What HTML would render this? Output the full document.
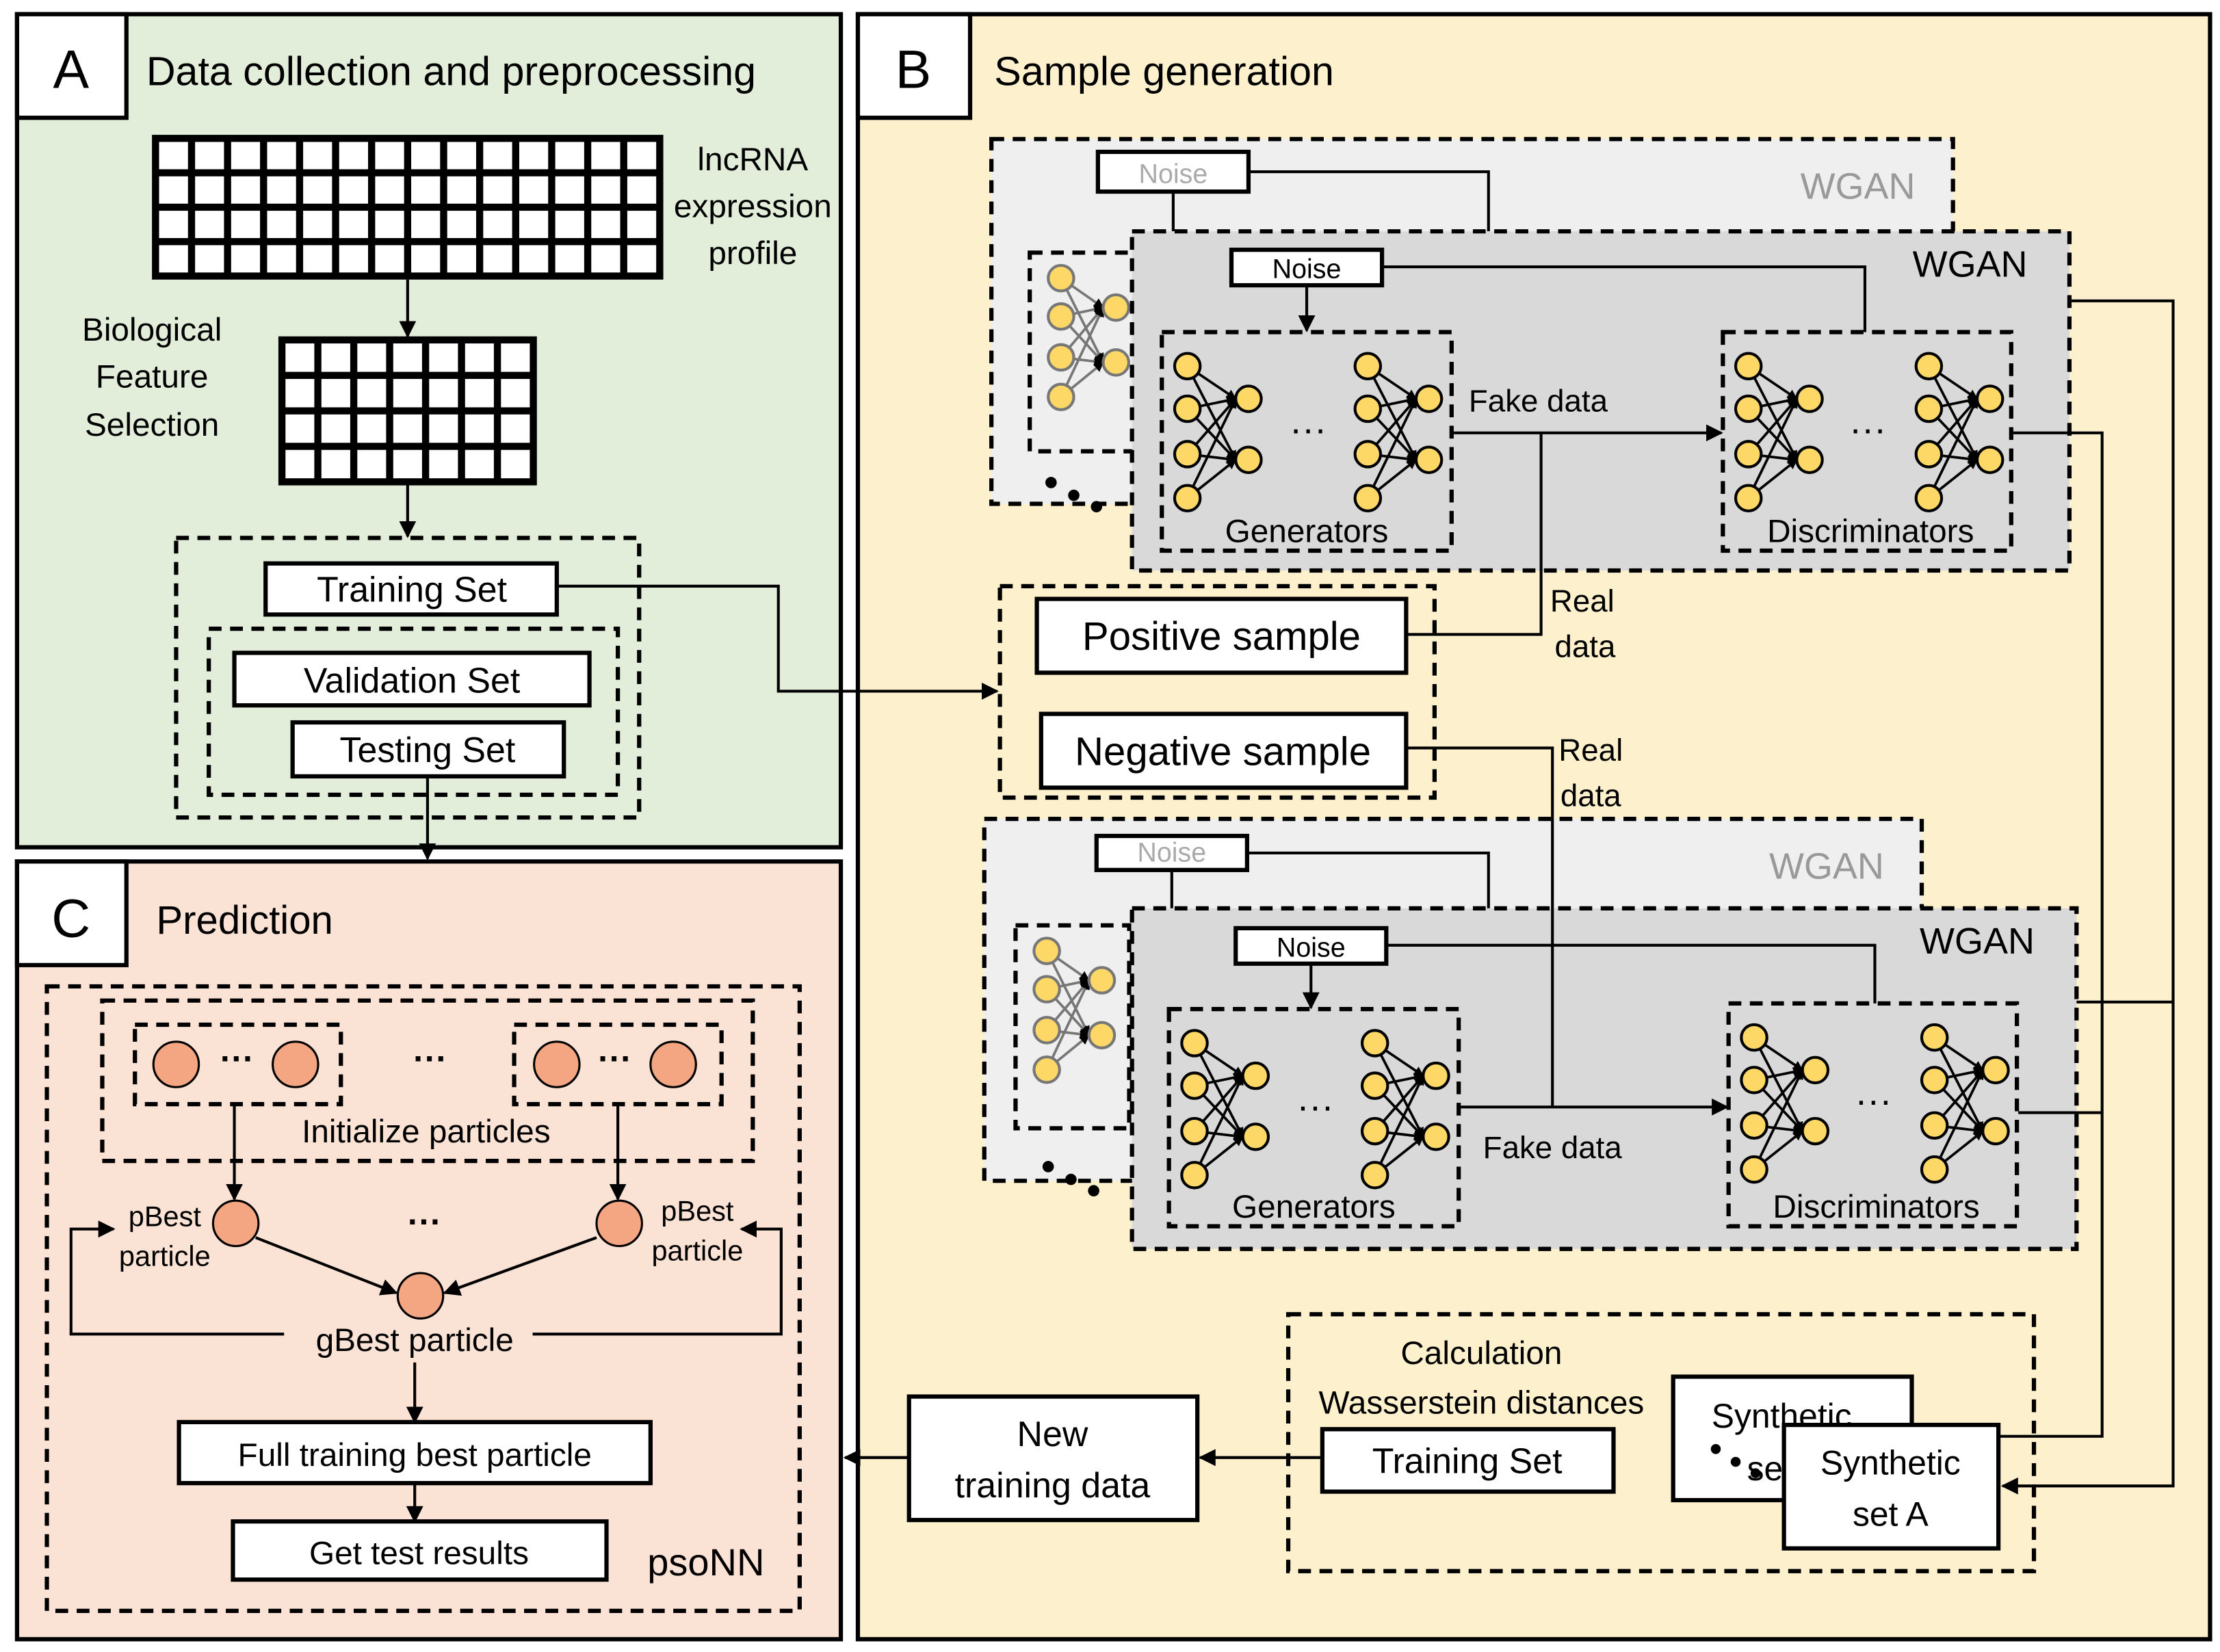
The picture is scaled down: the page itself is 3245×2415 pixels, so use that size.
<!DOCTYPE html>
<html><head><meta charset="utf-8"><style>
html,body{margin:0;padding:0;background:#fff}
svg{display:block}
text{font-family:"Liberation Sans","DejaVu Sans",sans-serif;fill:#000}
</style></head><body>
<svg id="s" width="3245" height="2415" viewBox="0 0 1563 1164" preserveAspectRatio="none" xmlns="http://www.w3.org/2000/svg">
<defs>
<marker id="ar" viewBox="0 0 10 10" refX="9" refY="5" markerWidth="7" markerHeight="7" markerUnits="userSpaceOnUse" orient="auto"><path d="M0,0L10,5L0,10z" fill="#000"/></marker>
<marker id="ar2" viewBox="0 0 10 10" refX="9" refY="5" markerWidth="12" markerHeight="12" markerUnits="userSpaceOnUse" orient="auto"><path d="M0,0L10,5L0,10z" fill="#000"/></marker>
</defs>
<rect width="1563" height="1164" fill="#fff"/>
<rect x="12" y="10" width="580" height="587" fill="#e2eed9" stroke="#000" stroke-width="3"/>
<rect x="12" y="10" width="77" height="73" fill="#fff" stroke="#000" stroke-width="3"/>
<text x="50" y="62" font-size="38" text-anchor="middle">A</text>
<text x="103" y="60" font-size="28.5">Data collection and preprocessing</text>
<g id="grids"></g>
<g font-size="23" text-anchor="middle">
<text x="530" y="120">lncRNA</text><text x="530" y="153">expression</text><text x="530" y="186">profile</text>
<text x="107" y="240">Biological</text><text x="107" y="273">Feature</text><text x="107" y="307">Selection</text>
</g>
<g stroke="#000" stroke-width="2" fill="none">
<line x1="287" y1="197" x2="287" y2="237" marker-end="url(#ar2)"/>
<line x1="287" y1="342" x2="287" y2="378" marker-end="url(#ar2)"/>
<rect x="124" y="379" width="326" height="197" stroke-dasharray="9,6" stroke-width="3"/>
<rect x="147" y="443" width="288" height="117" stroke-dasharray="9,6" stroke-width="3"/>
<line x1="301" y1="547" x2="301" y2="605" marker-end="url(#ar2)"/>
</g>
<g stroke="#000" stroke-width="3" fill="#fff">
<rect x="187" y="397" width="205" height="36"/>
<rect x="165" y="460" width="250" height="37"/>
<rect x="206" y="509" width="191" height="38"/>
</g>
<g font-size="25" text-anchor="middle">
<text x="290" y="424">Training Set</text>
<text x="290" y="488">Validation Set</text>
<text x="301" y="537">Testing Set</text>
</g>
<rect x="12" y="607" width="580" height="548" fill="#fae2d4" stroke="#000" stroke-width="3"/>
<rect x="12" y="607" width="77" height="73" fill="#fff" stroke="#000" stroke-width="3"/>
<text x="50" y="660" font-size="38" text-anchor="middle">C</text>
<text x="110" y="658" font-size="28">Prediction</text>
<g stroke="#000" stroke-width="3" fill="none" stroke-dasharray="9,6">
<rect x="33" y="695" width="530" height="440"/>
<rect x="72" y="705" width="458" height="113"/>
<rect x="95" y="722" width="145" height="56"/>
<rect x="362" y="722" width="146" height="56"/>
</g>
<g fill="#f4a582" stroke="#000" stroke-width="1.5">
<circle cx="124" cy="750" r="16"/><circle cx="208" cy="750" r="16"/>
<circle cx="392" cy="750" r="16"/><circle cx="474" cy="750" r="16"/>
<circle cx="166" cy="862" r="16"/><circle cx="436" cy="862" r="16"/><circle cx="296" cy="913" r="16"/>
</g>
<g font-size="24" text-anchor="middle" font-weight="bold">
<text x="167" y="754">···</text><text x="433" y="754">···</text><text x="303" y="754">···</text><text x="299" y="869">···</text>
</g>
<text x="300" y="805" font-size="23" text-anchor="middle">Initialize particles</text>
<g font-size="20" text-anchor="middle">
<text x="116" y="864">pBest</text><text x="116" y="892">particle</text>
<text x="491" y="860">pBest</text><text x="491" y="888">particle</text>
</g>
<text x="292" y="952" font-size="23" text-anchor="middle">gBest particle</text>
<g stroke="#000" stroke-width="2" fill="none">
<line x1="165" y1="778" x2="165" y2="845" marker-end="url(#ar2)"/>
<line x1="435" y1="778" x2="435" y2="845" marker-end="url(#ar2)"/>
<line x1="180" y1="872" x2="279" y2="911" marker-end="url(#ar2)"/>
<line x1="420" y1="872" x2="313" y2="911" marker-end="url(#ar2)"/>
<polyline points="200,940 50,940 50,866 80,866" marker-end="url(#ar2)"/>
<polyline points="375,940 550,940 550,866 522,866" marker-end="url(#ar2)"/>
<line x1="292" y1="960" x2="292" y2="1002" marker-end="url(#ar2)"/>
<line x1="292" y1="1045" x2="292" y2="1072" marker-end="url(#ar2)"/>
</g>
<g stroke="#000" stroke-width="3" fill="#fff">
<rect x="126" y="1002" width="332" height="43"/>
<rect x="164" y="1072" width="263" height="41"/>
</g>
<text x="292" y="1033" font-size="23" text-anchor="middle">Full training best particle</text>
<text x="295" y="1102" font-size="23" text-anchor="middle">Get test results</text>
<text x="497" y="1110" font-size="27" text-anchor="middle">psoNN</text>
<rect x="604" y="10" width="952" height="1145" fill="#fdf0cc" stroke="#000" stroke-width="3"/>
<rect x="604" y="10" width="79" height="73" fill="#fff" stroke="#000" stroke-width="3"/>
<text x="643" y="62" font-size="38" text-anchor="middle">B</text>
<text x="700" y="60" font-size="28.5">Sample generation</text>
<g id="wg"></g>
<rect x="704" y="413" width="306" height="149" fill="none" stroke="#000" stroke-width="3" stroke-dasharray="9,6"/>
<g stroke="#000" stroke-width="3" fill="#fff">
<rect x="730" y="422" width="260" height="52"/>
<rect x="733" y="503" width="257" height="52"/>
</g>
<text x="860" y="458" font-size="28" text-anchor="middle">Positive sample</text>
<text x="861" y="539" font-size="28" text-anchor="middle">Negative sample</text>
<g font-size="22" text-anchor="middle">
<text x="1114" y="431">Real</text><text x="1116" y="463">data</text>
<text x="1120" y="536">Real</text><text x="1120" y="568">data</text>
<text x="1083" y="290">Fake data</text>
<text x="1093" y="816">Fake data</text>
</g>
<g stroke="#000" stroke-width="2" fill="none">
<polyline points="392,413 548,413 548,487 702,487" marker-end="url(#ar2)"/>
<polyline points="1085,305 1085,447 990,447"/>
<polyline points="990,527 1093,527 1093,780"/>
<polyline points="1457,212 1530,212 1530,1047 1410,1047" marker-end="url(#ar2)"/>
<polyline points="1416,305 1480,305 1480,1012 1408,1012"/>
<polyline points="1462,706 1530,706"/>
<polyline points="1421,784 1480,784"/>
<line x1="1022" y1="305" x2="1212" y2="305" marker-end="url(#ar2)"/>
<line x1="1027" y1="780" x2="1216" y2="780" marker-end="url(#ar2)"/>
</g>
<rect x="907" y="926" width="525" height="181" fill="none" stroke="#000" stroke-width="3" stroke-dasharray="9,6"/>
<text x="1043" y="961" font-size="23" text-anchor="middle">Calculation</text>
<text x="1043" y="996" font-size="23" text-anchor="middle">Wasserstein distances</text>
<g stroke="#000" stroke-width="3" fill="#fff">
<rect x="931" y="1007" width="205" height="44"/>
<rect x="1178" y="970" width="168" height="87"/>
</g>
<text x="1033" y="1038" font-size="25" text-anchor="middle">Training Set</text>
<text x="1205" y="1006" font-size="24">Synthetic</text>
<text x="1230" y="1043" font-size="24">se</text>
<g fill="#000"><circle cx="1208" cy="1021" r="3.5"/><circle cx="1222" cy="1030" r="3.5"/><circle cx="1236" cy="1038" r="3.5"/></g>
<rect x="1256" y="1004" width="151" height="87" fill="#fff" stroke="#000" stroke-width="3"/>
<text x="1331" y="1039" font-size="24" text-anchor="middle">Synthetic</text>
<text x="1331" y="1075" font-size="24" text-anchor="middle">set A</text>
<rect x="640" y="984" width="203" height="87" fill="#fff" stroke="#000" stroke-width="3"/>
<text x="741" y="1019" font-size="25" text-anchor="middle">New</text>
<text x="741" y="1055" font-size="25" text-anchor="middle">training data</text>
<g stroke="#000" stroke-width="2" fill="none">
<line x1="931" y1="1027" x2="845" y2="1027" marker-end="url(#ar2)"/>
<line x1="640" y1="1027" x2="595" y2="1027" marker-end="url(#ar2)"/>
</g>
</svg>
<script>
var NS="http://www.w3.org/2000/svg";
function el(p,t,a){var e=document.createElementNS(NS,t);for(var k in a)e.setAttribute(k,a[k]);p.appendChild(e);return e;}
var g=document.getElementById("grids");
function grid(x,y,w,h,c,r){el(g,"rect",{x:x,y:y,width:w,height:h,fill:"#000"});var b=5,cw=(w-b)/c,ch=(h-b)/r;
for(var i=0;i<c;i++)for(var j=0;j<r;j++)el(g,"rect",{x:x+b+i*cw,y:y+b+j*ch,width:cw-b,height:ch-b,fill:"#fff"});}
grid(107,95,360,102,14,4);grid(196,237,182,105,7,4);
var w=document.getElementById("wg");
function nn(p,x,y,col,sc){sc=sc||1;var L=[0,30,62,93],R=[23,66];
var gg=el(p,"g",{});
L.forEach(function(a){R.forEach(function(b){el(gg,"line",{x1:x,y1:y+a*sc,x2:x+43*sc-9,y2:y+b*sc,stroke:col,"stroke-width":1.8,"marker-end":"url(#ar)"});});});
L.forEach(function(a){el(gg,"circle",{cx:x,cy:y+a*sc,r:9,fill:"#fdd866",stroke:col,"stroke-width":2});});
R.forEach(function(b){el(gg,"circle",{cx:x+43*sc,cy:y+b*sc,r:9,fill:"#fdd866",stroke:col,"stroke-width":2});});}
function box(x,y,ww,h,f,dash){return el(w,"rect",{x:x,y:y,width:ww,height:h,fill:f||"none",stroke:"#000","stroke-width":3,"stroke-dasharray":dash?"9,6":"none"});}
function txt(x,y,s,t,fill,anchor){var e=el(w,"text",{x:x,y:y,"font-size":s,"text-anchor":anchor||"middle"});e.textContent=t;if(fill)e.style.fill=fill;return e;}
function line(pts,me){el(w,"polyline",{points:pts,fill:"none",stroke:"#000","stroke-width":2,"marker-end":me?"url(#ar2)":"none"});}
function wgan(o){
 box(o.bx,o.by,o.bw,o.bh,"#efefef",true);
 txt(o.bx+o.bw-67,o.by+42,26,"WGAN","#999");
 box(o.bnx,o.bny,106,o.bnh,"#fff");
 txt(o.bnx+53,o.bny+o.bnh-6,19,"Noise","#aaa");
 line((o.bnx+106)+","+(o.bny+o.bnh/2)+" 1048,"+(o.bny+o.bnh/2)+" 1048,"+o.fy);
 line((o.bnx+53)+","+(o.bny+o.bnh)+" "+(o.bnx+53)+","+o.fy);
 box(o.sx,o.sy,80,o.sh,"none",true);
 nn(w,o.sx+22,o.sy+18,"#777",0.9);
 [[0,0],[16,9],[32,17]].forEach(function(d){el(w,"circle",{cx:o.dx+d[0],cy:o.dy+d[1],r:4,fill:"#000"});});
 box(797,o.fy,o.fw,o.fh,"#d9d9d9",true);
 txt(797+o.fw-70,o.fy+32,26,"WGAN");
 box(o.nx,o.ny,106,25,"#fff");
 txt(o.nx+53,o.ny+20,19,"Noise");
 line((o.nx+106)+","+(o.ny+12)+" "+o.dlx+","+(o.ny+12)+" "+o.dlx+","+o.dy2);
 line((o.nx+53)+","+(o.ny+25)+" "+(o.nx+53)+","+(o.gy-1),true);
 box(o.gx,o.gy,204,o.gh,"none",true);
 box(o.dx2,o.dy2,203,o.dh,"none",true);
 nn(w,o.gx+18,o.gy+24,"#000");nn(w,o.gx+145,o.gy+24,"#000");
 nn(w,o.dx2+18,o.dy2+24,"#000");nn(w,o.dx2+145,o.dy2+24,"#000");
 txt(o.gx+103,o.gy+77,26,"···");txt(o.dx2+102,o.dy2+77,26,"···");
 txt(o.gx+102,o.gy+o.gh-6,23,"Generators");txt(o.dx2+104,o.dh+o.dy2-6,23,"Discriminators");
}
wgan({bx:698,by:98,bw:677,bh:257,bnx:773,bny:107,bnh:28,fy:163,fw:660,fh:239,sx:725,sy:178,sh:140,dx:740,dy:340,
 nx:867,ny:176,dlx:1313,gx:818,gy:234,gh:154,dx2:1213,dy2:234,dh:154});
wgan({bx:693,by:577,bw:660,bh:255,bnx:772,bny:589,bnh:24,fy:640,fw:665,fh:240,sx:715,sy:652,sh:143,dx:738,dy:822,
 nx:870,ny:654,dlx:1320,gx:823,gy:711,gh:153,dx2:1217,dy2:707,dh:157});
</script>
</body></html>
